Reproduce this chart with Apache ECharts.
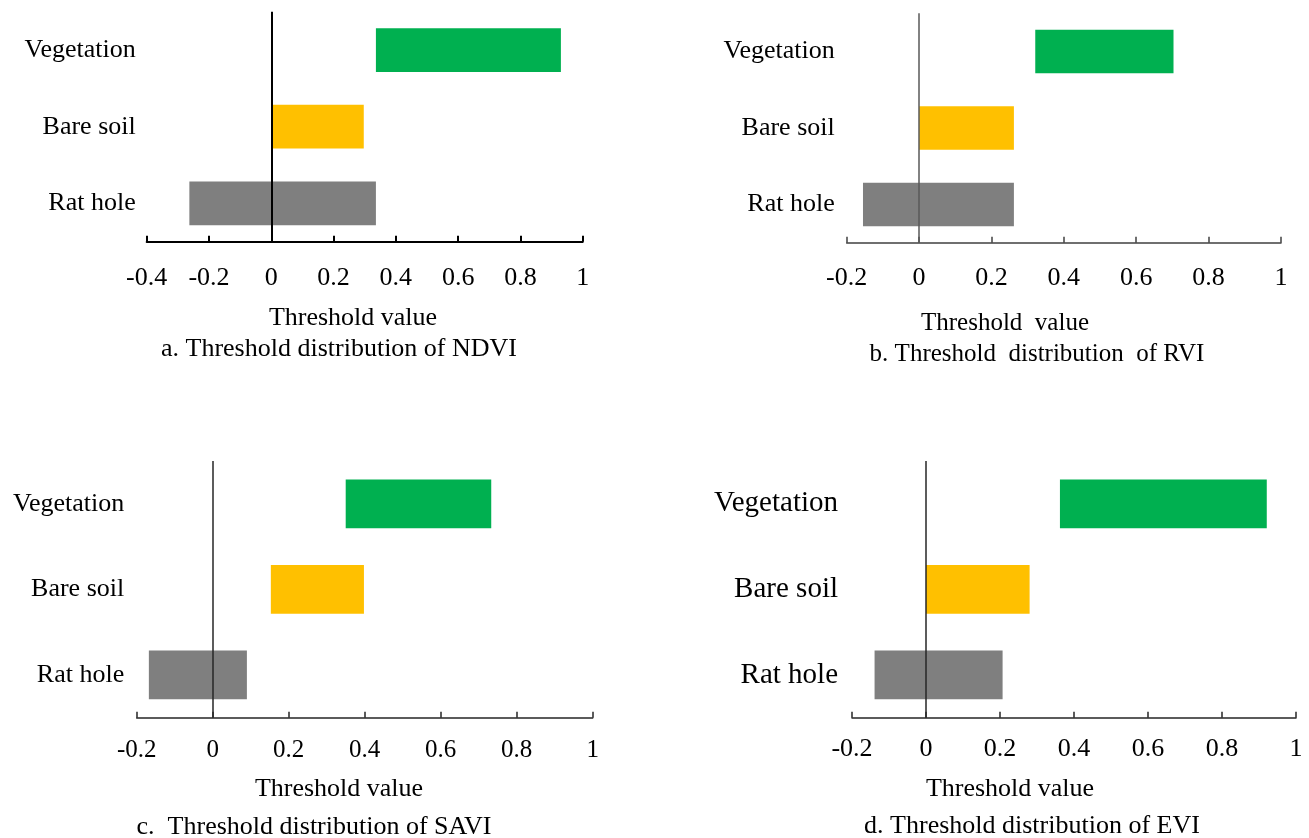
<!DOCTYPE html>
<html>
<head>
<meta charset="utf-8">
<script src="https://cdn.jsdelivr.net/npm/echarts@6/dist/echarts.min.js"></script>
<style>
  html, body { margin: 0; padding: 0; background: #ffffff; }
  #chart { width: 1309px; height: 838px; }
</style>
</head>
<body>
<div id="chart"></div>
<script>
// Land-cover classes, bottom to top
const categories = ['Rat hole', 'Bare soil', 'Vegetation'];

// Threshold ranges (start / end) for each index, in category order
const ndviStart = [-0.263, 0, 0.336];
const ndviEnd   = [0.336, 0.297, 0.930];
const rviStart  = [-0.155, 0, 0.321];
const rviEnd    = [0.262, 0.262, 0.703];
const saviStart = [-0.168, 0.153, 0.350];
const saviEnd   = [0.090, 0.398, 0.733];
const eviStart  = [-0.139, 0, 0.362];
const eviEnd    = [0.207, 0.280, 0.921];

// Value-axis ranges
const axisMin = [-0.4, -0.2, -0.2, -0.2];
const axisMax = [1, 1, 1, 1];
const axisStep = 0.2;

const axisName = ['Threshold value', 'Threshold  value', 'Threshold value', 'Threshold value'];
const captions = [
  'a. Threshold distribution of NDVI',
  'b. Threshold  distribution  of RVI',
  'c.  Threshold distribution of SAVI',
  'd. Threshold distribution of EVI'
];

const barColors = ['#7F7F7F', '#FFC000', '#00B050'];
const FONT = '"Liberation Serif", "Times New Roman", serif';

const ranges = [
  [ndviStart, ndviEnd],
  [rviStart, rviEnd],
  [saviStart, saviEnd],
  [eviStart, eviEnd]
];

// Panel layout (pixels)
const panels = [
  { left: 146.7, top: 11.7, width: 436, height: 230, line: '#000000', lineW: 2, zeroColor: '#000000', zeroW: 2,
    catSize: 26, catMargin: 11, tickSize: 26, tickMargin: 23, nameX: 353, nameY: 318, capX: 339, capY: 349, textSize: 26 },
  { left: 846.7, top: 13.3, width: 434.3, height: 229.4, line: '#404040', lineW: 1.5, zeroColor: '#595959', zeroW: 1.5,
    catSize: 26, catMargin: 12, tickSize: 26, tickMargin: 22, nameX: 1005, nameY: 323, capX: 1037, capY: 354, textSize: 25 },
  { left: 136.7, top: 461, width: 456, height: 256.7, line: '#262626', lineW: 1.5, zeroColor: '#262626', zeroW: 1.5,
    catSize: 26, catMargin: 12.5, tickSize: 25, tickMargin: 20, nameX: 339, nameY: 789, capX: 314, capY: 827, textSize: 26 },
  { left: 852, top: 461, width: 444, height: 256.7, line: '#262626', lineW: 1.5, zeroColor: '#262626', zeroW: 1.5,
    catSize: 29, catMargin: 14, tickSize: 26, tickMargin: 18, nameX: 1010, nameY: 789, capX: 1032, capY: 826, textSize: 26 }
];

function renderRange(params, api) {
  const cat = api.value(0);
  const p0 = api.coord([api.value(1), cat]);
  const p1 = api.coord([api.value(2), cat]);
  const h = api.size([0, 1])[1] * 0.57;
  return {
    type: 'rect',
    shape: { x: p0[0], y: p0[1] - h / 2, width: p1[0] - p0[0], height: h },
    style: { fill: barColors[cat] }
  };
}

const grid = [], xAxis = [], yAxis = [], series = [], graphic = [];

panels.forEach((p, i) => {
  grid.push({ left: p.left, top: p.top, width: p.width, height: p.height, containLabel: false });

  xAxis.push({
    type: 'value', gridIndex: i,
    min: axisMin[i], max: axisMax[i], interval: axisStep,
    splitLine: { show: false },
    axisLine: { show: true, onZero: false, lineStyle: { color: p.line, width: p.lineW } },
    axisTick: { show: true, inside: true, length: 6, lineStyle: { color: p.line, width: p.lineW } },
    axisLabel: { color: '#000', fontFamily: FONT, fontSize: p.tickSize, margin: p.tickMargin }
  });

  yAxis.push({
    type: 'category', gridIndex: i, data: categories,
    axisLine: { show: false }, axisTick: { show: false },
    axisLabel: { color: '#000', fontFamily: FONT, fontSize: p.catSize, margin: p.catMargin }
  });

  series.push({
    type: 'custom', name: captions[i],
    xAxisIndex: i, yAxisIndex: i,
    renderItem: renderRange,
    encode: { x: [1, 2], y: 0 },
    data: categories.map((c, k) => [k, ranges[i][0][k], ranges[i][1][k]]),
    z: 1,
    // vertical reference line through x = 0
    markLine: {
      silent: true,
      symbol: ['none', 'none'],
      label: { show: false },
      emphasis: { disabled: true },
      lineStyle: { color: p.zeroColor, width: p.zeroW, type: 'solid' },
      data: [{ xAxis: 0 }]
    }
  });

  graphic.push({
    type: 'text', x: p.nameX, y: p.nameY,
    style: { text: axisName[i], fill: '#000', font: p.textSize + 'px ' + FONT, align: 'center', verticalAlign: 'middle' }
  });
  graphic.push({
    type: 'text', x: p.capX, y: p.capY,
    style: { text: captions[i], fill: '#000', font: p.textSize + 'px ' + FONT, align: 'center', verticalAlign: 'middle' }
  });
});

const chart = echarts.init(document.getElementById('chart'), null, { renderer: 'canvas' });
chart.setOption({
  animation: false,
  backgroundColor: '#ffffff',
  grid, xAxis, yAxis, series, graphic
});
</script>
</body>
</html>
